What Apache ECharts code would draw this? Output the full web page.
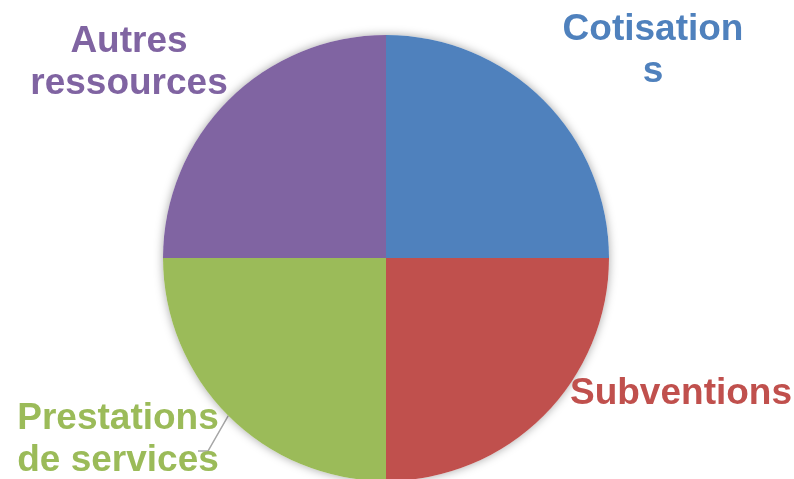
<!DOCTYPE html>
<html>
<head>
<meta charset="utf-8">
<style>html,body{margin:0;padding:0;background:#fff;}#c{width:794px;height:479px;}</style>
<script src="https://cdn.jsdelivr.net/npm/echarts@6/dist/echarts.min.js"></script>
</head>
<body>
<div id="c"></div>
<script>
var categories = ["Cotisations", "Subventions", "Prestations de services", "Autres ressources"];
var labelTexts = ["Cotisation\ns", "Subventions", "Prestations\nde services", "Autres\nressources"];
var values = [25, 25, 25, 25];
var colors = ["#4F81BD", "#C0504D", "#9BBB59", "#8064A2"];

var labelPos = [[653, 51], [681, 394], [118, 440], [129, 63]];
var chart = echarts.init(document.getElementById('c'), null, {renderer: 'canvas'});
var data = categories.map(function (n, i) {
  return {
    name: n,
    value: values[i],
    itemStyle: {color: colors[i]},
    label: {color: colors[i]},
    labelLine: {show: i === 2}
  };
});
chart.setOption({
  animation: false,
  series: [
    {
      type: 'pie',
      silent: true,
      center: [386, 258],
      radius: 223,
      label: {show: false},
      labelLine: {show: false},
      itemStyle: {color: '#ffffff', shadowBlur: 10, shadowColor: 'rgba(0,0,0,0.35)'},
      data: [{name: '', value: 1}]
    },
    {
      type: 'pie',
      center: [386, 258],
      radius: 223,
      startAngle: 90,
      clockwise: true,
      avoidLabelOverlap: false,
      itemStyle: {borderWidth: 0},
      label: {
        show: true,
        position: 'outside',
        formatter: function (p) { return labelTexts[p.dataIndex]; },
        fontFamily: 'Liberation Sans, Arial, sans-serif',
        fontWeight: 'bold',
        fontSize: 37,
        lineHeight: 42,
        align: 'center'
      },
      labelLine: {
        length: 20,
        length2: 10,
        lineStyle: {color: '#A6A6A6', width: 1.5}
      },
      labelLayout: function (params) {
        var p = labelPos[params.dataIndex];
        var out = {x: p[0], y: p[1], align: 'center', verticalAlign: 'middle'};
        if (params.dataIndex === 2 && params.labelLinePoints) {
          var s = params.labelLinePoints[0];
          out.labelLinePoints = [[s[0], s[1]], [208, 451], [198, 451]];
        }
        return out;
      },
      data: data
    }
  ]
});
</script>
</body>
</html>
